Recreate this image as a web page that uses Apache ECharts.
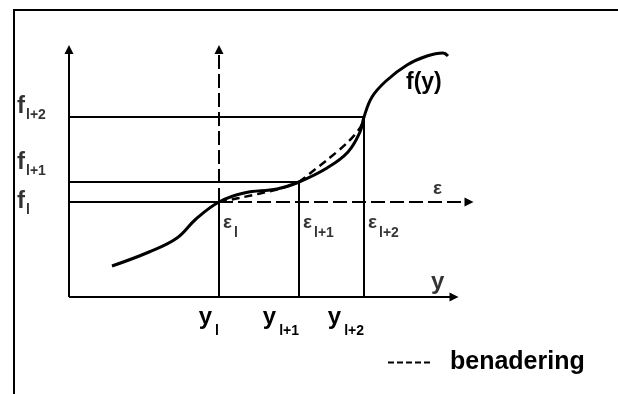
<!DOCTYPE html>
<html>
<head>
<meta charset="utf-8">
<script src="https://cdn.jsdelivr.net/npm/echarts@6/dist/echarts.min.js"></script>
<style>
  html, body { margin: 0; padding: 0; background: #fff; }
  #chart { width: 618px; height: 394px; }
</style>
</head>
<body>
<div id="chart"></div>
<script>
  // positions of y_l, y_l+1, y_l+2 on the y axis and f_l, f_l+1, f_l+2 on the f axis
  const yTicks = [30, 46, 59];
  const fTicks = [19, 23, 36];
  const subNames = ["l", "l+1", "l+2"];

  // f(y)
  const curveY = [8.6, 16, 21.6, 25.4, 30, 35, 41.6, 46, 51.6, 55.8, 58.2, 59, 60.6, 63.4, 67.6, 71.6, 74.8, 75.8];
  const curveF = [6.2, 9, 11.8, 15.6, 19, 20.8, 21.6, 23, 25.8, 29, 33, 36, 40, 43.2, 46.4, 48.2, 48.8, 48.2];

  // benadering (dashed), two pieces
  const approx1Y = [30, 34, 42, 46];
  const approx1F = [19, 19.8, 21.6, 23];
  const approx2Y = [46, 51.6, 55.6, 58.2, 59];
  const approx2F = [23, 27.4, 30.8, 33.8, 36];

  // axis ends
  const yAxisEnd = 77;
  const fAxisEnd = 49.5;
  const epsEnd = 80;

  const FONT = "Liberation Sans";
  const black = "#000";

  const chart = echarts.init(document.getElementById("chart"));

  function pairs(xs, ys) {
    return xs.map((x, i) => [x, ys[i]]);
  }

  function seg(a, b, dashed, arrow) {
    return [
      {
        coord: a,
        symbol: "none",
        lineStyle: { color: black, width: 2, type: dashed ? [14, 5] : "solid" },
      },
      { coord: b, symbol: arrow ? "triangle" : "none" },
    ];
  }

  const guides = [
    seg([0, 0], [yAxisEnd, 0], false, true), // y axis
    seg([0, 0], [0, fAxisEnd], false, true), // f axis
    seg([yTicks[0], fTicks[0]], [epsEnd, fTicks[0]], true, true), // eps axis
    seg([yTicks[0], fTicks[0]], [yTicks[0], fAxisEnd], true, true),
  ];
  for (let i = 0; i < 3; i++) {
    guides.push(seg([0, fTicks[i]], [yTicks[i], fTicks[i]], false, false));
    guides.push(seg([yTicks[i], 0], [yTicks[i], fTicks[i]], false, false));
  }

  // vertical offsets of the f labels next to their lines
  const fLabelDy = [-9, -28, -19];

  const subRich = {
    f: { fontSize: 24, fontWeight: "bold", lineHeight: 24, verticalAlign: "bottom", padding: [0, 0, 3.5, 0], color: black },
    s: { fontSize: 14, fontWeight: "bold", lineHeight: 14, verticalAlign: "bottom", padding: [0, 0, 0, 1], color: black },
  };

  const option = {
    animation: false,
    backgroundColor: "#fff",
    textStyle: { fontFamily: FONT, color: black },
    grid: { left: 69, top: 297 - fAxisEnd * 5, width: 400, height: fAxisEnd * 5, outerBoundsMode: "none", containLabel: false },
    xAxis: {
      type: "value",
      min: 0,
      max: epsEnd,
      axisLine: { show: false },
      axisTick: { show: false },
      splitLine: { show: false },
      axisLabel: {
        customValues: yTicks,
        interval: 0,
        hideOverlap: false,
        align: "right",
        margin: 17,
        formatter: (v) => "{y|y}{s|" + subNames[yTicks.indexOf(v)] + "}",
        rich: {
          y: { fontSize: 24, fontWeight: "bold", lineHeight: 24, verticalAlign: "bottom", padding: [0, 0, 9, 0], color: black },
          s: { fontSize: 14, fontWeight: "bold", lineHeight: 14, verticalAlign: "bottom", padding: [0, 0, 0, 3], color: black },
        },
      },
    },
    yAxis: {
      type: "value",
      min: 0,
      max: fAxisEnd,
      axisLine: { show: false },
      axisTick: { show: false },
      splitLine: { show: false },
      axisLabel: { show: false },
    },
    legend: {
      data: ["benadering"],
      left: 382,
      top: 345,
      itemWidth: 44,
      itemHeight: 14,
      itemStyle: { opacity: 0 },
      lineStyle: { type: [6, 3], width: 2, color: black },
      textStyle: { fontSize: 25, fontWeight: "bold", color: black, fontFamily: FONT, padding: [0, 0, 6, 13] },
      selectedMode: false,
    },
    graphic: [
      {
        type: "rect",
        shape: { x: 14, y: 10, width: 640, height: 420 },
        style: { fill: "none", stroke: black, lineWidth: 2 },
      },
    ],
    series: [
      {
        name: "hulplijnen",
        type: "line",
        data: [],
        clip: false,
        silent: true,
        markLine: {
          silent: true,
          symbolSize: 9,
          label: { show: false },
          emphasis: { disabled: true },
          data: guides,
        },
      },
      {
        name: "f(y)",
        type: "line",
        data: pairs(curveY, curveF),
        smooth: 0.4,
        symbol: "none",
        silent: true,
        lineStyle: { color: black, width: 3 },
        endLabel: {
          show: true,
          formatter: "f(y)",
          fontSize: 23,
          fontWeight: "bold",
          color: black,
          offset: [-50, 27],
        },
        z: 3,
      },
      {
        name: "benadering",
        type: "line",
        data: pairs(approx1Y, approx1F),
        smooth: 0.3,
        symbol: "none",
        silent: true,
        lineStyle: { color: black, width: 2.5, type: [8, 5] },
      },
      {
        name: "benadering",
        type: "line",
        data: pairs(approx2Y, approx2F),
        smooth: 0.3,
        symbol: "none",
        silent: true,
        lineStyle: { color: black, width: 2.5, type: [8, 5] },
      },
      {
        // f_l, f_l+1, f_l+2 beside the f axis
        name: "fLabels",
        type: "scatter",
        data: fTicks.map((f, i) => ({ value: [0, f], label: { position: [-52, fLabelDy[i]] } })),
        symbolSize: 0,
        silent: true,
        clip: false,
        label: {
          show: true,
          formatter: (p) => "{f|f}{s|" + subNames[p.dataIndex] + "}",
          rich: subRich,
        },
      },
      {
        name: "eps",
        type: "scatter",
        data: yTicks.map((y) => [y, fTicks[0]]),
        symbolSize: 0,
        silent: true,
        label: {
          show: true,
          position: [4, 19],
          formatter: (p) => "{e|\u03b5}{s|" + subNames[p.dataIndex] + "}",
          rich: {
            e: { fontSize: 19, fontWeight: "bold", lineHeight: 19, verticalAlign: "bottom", padding: [0, 0, 7.5, 0], color: black },
            s: { fontSize: 14, fontWeight: "bold", lineHeight: 14, verticalAlign: "bottom", padding: [0, 0, 0, 2], color: black },
          },
        },
      },
      {
        name: "asnamen",
        type: "scatter",
        data: [
          { value: [yAxisEnd, 0], label: { formatter: "y", fontSize: 24, position: [-23, -27] } },
          { value: [epsEnd, fTicks[0]], label: { formatter: "\u03b5", fontSize: 19, position: [-36, -23] } },
        ],
        symbolSize: 0,
        silent: true,
        label: { show: true, fontWeight: "bold", color: black },
      },
    ],
  };

  chart.setOption(option);
</script>
</body>
</html>
